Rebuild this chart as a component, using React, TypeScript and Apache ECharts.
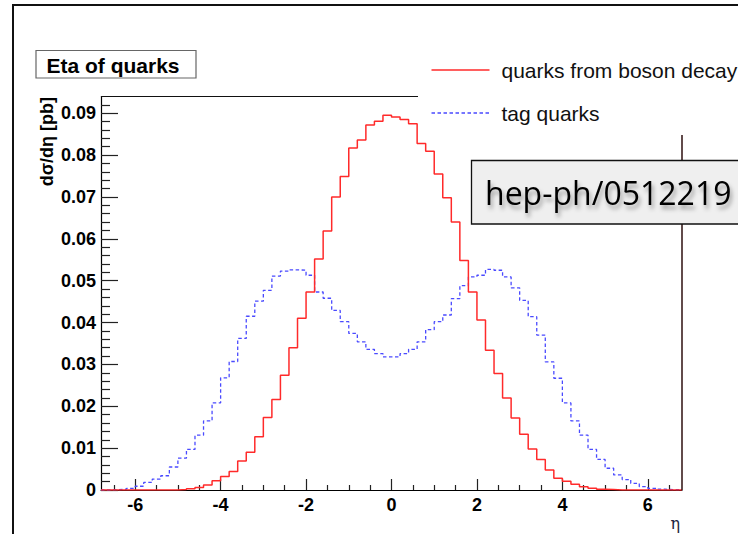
import React, { useEffect, useRef } from "react";
import * as echarts from "echarts";

// Histogram binning (eta)
const X_MIN = -6.8;
const X_MAX = 6.8;
const BIN_WIDTH = 0.2;

// quarks from boson decay (68 bins from -6.8 to 6.8)
const bosonQuarks = [
  0, 0, 0, 0, 0, 0, 0, 0, 0,
  0.0001, 0.0003, 0.0006, 0.0012, 0.0022, 0.0032, 0.0044, 0.0069, 0.009, 0.0127,
  0.0173, 0.0216, 0.0274, 0.034, 0.041, 0.0473, 0.0552, 0.0619, 0.07, 0.0749,
  0.0817, 0.0836, 0.0872, 0.0881, 0.0895, 0.0891, 0.0885, 0.0875, 0.0828, 0.0809,
  0.0755, 0.0698, 0.064, 0.0548, 0.0473, 0.0406, 0.0334, 0.0278, 0.022, 0.0172,
  0.0133, 0.0098, 0.0073, 0.0048, 0.0028, 0.0021, 0.0014, 0.0008, 0.0004, 0.0002,
  0.0001,
  0, 0, 0, 0, 0, 0, 0, 0,
];

// tag quarks
const tagQuarks = [
  0, 0.0001, 0.0002, 0.0004, 0.0009, 0.0018, 0.0026, 0.0034, 0.0055, 0.0076,
  0.0097, 0.0131, 0.0165, 0.0208, 0.0268, 0.0307, 0.0362, 0.0415, 0.0451, 0.0477,
  0.0511, 0.0523, 0.0526, 0.0525, 0.0513, 0.0473, 0.0458, 0.0429, 0.0402, 0.0374,
  0.0354, 0.0336, 0.0326, 0.0318, 0.0318, 0.0326, 0.0336, 0.0354, 0.0383, 0.0402,
  0.0418, 0.0457, 0.0488, 0.0509, 0.0513, 0.0527, 0.0525, 0.0509, 0.0483, 0.0453,
  0.0414, 0.037, 0.0306, 0.0267, 0.0208, 0.0165, 0.0131, 0.0097, 0.0073, 0.0052,
  0.0036, 0.0025, 0.0016, 0.0008, 0.0004, 0.0002, 0.0001, 0.0001,
];

const xTickLabels = [-6, -4, -2, 0, 2, 4, 6];
const xMinorTicks = [-6.5, -5.5, -5, -4.5, -3.5, -3, -2.5, -1.5, -1, -0.5, 0.5, 1, 1.5, 2.5, 3, 3.5, 4.5, 5, 5.5, 6.5];
const yTickLabels = [0, 0.01, 0.02, 0.03, 0.04, 0.05, 0.06, 0.07, 0.08, 0.09];
const Y_MAX = 0.094;
const Y_MINOR_STEP = 0.002;

const titleText = "Eta of quarks";
const yTitle = "dσ/dη [pb]";
const xTitle = "η";
const legendNames = ["quarks from boson decay", "tag quarks"];
const stamp = "hep-ph/0512219";

function toSteps(values: number[]): [number, number][] {
  const pts: [number, number][] = values.map((v, i) => [
    +(X_MIN + i * BIN_WIDTH).toFixed(2),
    v,
  ]);
  pts.push([X_MAX, values[values.length - 1]]);
  return pts;
}

export default function App() {
  const ref = useRef<HTMLDivElement>(null);
  useEffect(() => {
    if (!ref.current) return;
    const chart = echarts.init(ref.current, null, { renderer: "svg" });
    const yMinor: number[] = [];
    for (let v = Y_MINOR_STEP; v < Y_MAX; v += Y_MINOR_STEP) {
      const r = +v.toFixed(4);
      if (Math.abs(r * 100 - Math.round(r * 100)) > 1e-6) yMinor.push(r);
    }
    const labelFont = {
      fontFamily: "Liberation Sans, Arial, sans-serif",
      fontWeight: "bold" as const,
      fontSize: 18,
      color: "#000",
    };
    chart.setOption({
      animation: false,
      backgroundColor: "#fff",
      grid: { left: 101, right: 56, top: 96.5, bottom: 44, outerBoundsMode: "none" },
      xAxis: [
        {
          type: "value",
          min: X_MIN,
          max: X_MAX,
          position: "bottom",
          axisLine: { show: true, onZero: false, lineStyle: { color: "#000", width: 1.2 } },
          axisTick: { show: true, inside: true, length: 11, customValues: xTickLabels, lineStyle: { color: "#222", width: 1.2 } },
          axisLabel: { show: true, customValues: xTickLabels, margin: 6, ...labelFont },
          splitLine: { show: false },
        },
        {
          type: "value",
          min: X_MIN,
          max: X_MAX,
          position: "bottom",
          axisLine: { show: false, onZero: false },
          axisTick: { show: true, inside: true, length: 5, customValues: xMinorTicks, lineStyle: { color: "#222", width: 1.2 } },
          axisLabel: { show: false },
          splitLine: { show: false },
        },
      ],
      yAxis: [
        {
          type: "value",
          min: 0,
          max: Y_MAX,
          position: "left",
          axisLine: { show: true, onZero: false, lineStyle: { color: "#000", width: 1.2 } },
          axisTick: { show: true, inside: true, length: 17, customValues: yTickLabels, lineStyle: { color: "#222", width: 1.2 } },
          axisLabel: {
            show: true,
            customValues: yTickLabels,
            margin: 5,
            formatter: (v: number) => (v === 0 ? "0" : v.toFixed(2)),
            ...labelFont,
          },
          splitLine: { show: false },
        },
        {
          type: "value",
          min: 0,
          max: Y_MAX,
          position: "left",
          axisLine: { show: false, onZero: false },
          axisTick: { show: true, inside: true, length: 9, customValues: yMinor, lineStyle: { color: "#222", width: 1.2 } },
          axisLabel: { show: false },
          splitLine: { show: false },
        },
      ],
      series: [
        {
          name: legendNames[0],
          type: "line",
          step: "end",
          xAxisIndex: 0,
          yAxisIndex: 0,
          data: toSteps(bosonQuarks),
          showSymbol: false,
          lineStyle: { color: "#ff2a2a", width: 1.5 },
          z: 3,
        },
        {
          name: legendNames[1],
          type: "line",
          step: "end",
          xAxisIndex: 0,
          yAxisIndex: 0,
          data: toSteps(tagQuarks),
          showSymbol: false,
          lineStyle: { color: "#4a4aff", width: 1.3, type: [3.5, 2.5] },
          z: 2,
        },
      ],
      graphic: [
        // outer canvas frame
        { type: "rect", z: 50, shape: { x: 13, y: 5, width: 800, height: 600 }, style: { fill: "none", stroke: "#111", lineWidth: 2 } },
        // top frame segment of the plot
        { type: "line", z: 50, shape: { x1: 101, y1: 96.5, x2: 418, y2: 96.5 }, style: { stroke: "#111", lineWidth: 1.2 } },
        // right frame line of the plot
        { type: "line", z: 50, shape: { x1: 682, y1: 135, x2: 682, y2: 490 }, style: { stroke: "#3a1e1e", lineWidth: 1.6 } },
        // title box
        { type: "rect", z: 60, shape: { x: 36, y: 50.5, width: 160, height: 27.5 }, style: { fill: "#fff", stroke: "#666", lineWidth: 1.2 } },
        {
          type: "text", z: 61, x: 46.5, y: 65.5,
          style: { text: titleText, font: "bold 21px 'Liberation Sans', Arial, sans-serif", fill: "#000", textAlign: "left", textVerticalAlign: "middle" },
        },
        // y axis title
        {
          type: "text", z: 61, x: 47, y: 97, rotation: Math.PI / 2,
          style: { text: yTitle, font: "bold 18px 'Liberation Sans', Arial, sans-serif", fill: "#000", textAlign: "right", textVerticalAlign: "middle" },
        },
        // x axis title
        {
          type: "text", z: 61, x: 680, y: 523,
          style: { text: xTitle, font: "16px 'DejaVu Serif', serif", fill: "#1c2440", textAlign: "right", textVerticalAlign: "middle" },
        },
        // legend
        { type: "rect", z: 70, shape: { x: 418, y: 30, width: 330, height: 105 }, style: { fill: "#fff" } },
        { type: "line", z: 71, shape: { x1: 431.5, y1: 70, x2: 489.5, y2: 70 }, style: { stroke: "#ff2a2a", lineWidth: 1.5 } },
        { type: "line", z: 71, shape: { x1: 431.5, y1: 113, x2: 489.5, y2: 113 }, style: { stroke: "#4a4aff", lineWidth: 1.3, lineDash: [3.5, 2.5] } },
        {
          type: "text", z: 71, x: 501.5, y: 70,
          style: { text: legendNames[0], font: "21px 'Liberation Sans', Arial, sans-serif", fill: "#111", textAlign: "left", textVerticalAlign: "middle" },
        },
        {
          type: "text", z: 71, x: 501.5, y: 113,
          style: { text: legendNames[1], font: "21px 'Liberation Sans', Arial, sans-serif", fill: "#111", textAlign: "left", textVerticalAlign: "middle" },
        },
        // preprint stamp
        { type: "rect", z: 80, shape: { x: 471.5, y: 160.5, width: 300, height: 63.5 }, style: { fill: "#efefef", stroke: "#111", lineWidth: 1.3 } },
        {
          type: "text", z: 81, x: 485, y: 192,
          style: {
            text: stamp,
            font: "32px 'Open Sans', sans-serif",
            fill: "#000",
            textAlign: "left",
            textVerticalAlign: "middle",
            textShadowColor: "rgba(0,0,0,0.35)",
            textShadowBlur: 4,
            textShadowOffsetX: 2,
            textShadowOffsetY: 4,
          },
        },
      ],
    });
    return () => chart.dispose();
  }, []);
  return (
    <div
      ref={ref}
      style={{ position: "absolute", left: 0, top: 0, width: 738, height: 534 }}
    />
  );
}
